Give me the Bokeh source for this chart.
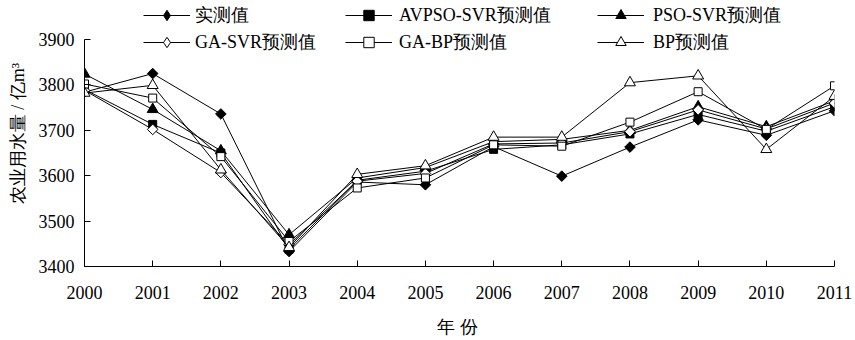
import math
from bokeh.plotting import figure
from bokeh.models import Range1d, FixedTicker, Legend, LegendItem
from bokeh.embed import file_html
from bokeh.resources import INLINE

years = [2000, 2001, 2002, 2003, 2004, 2005, 2006, 2007, 2008, 2009, 2010, 2011]
y_ticks = [3400, 3500, 3600, 3700, 3800, 3900]

actual    = [3784, 3825, 3736, 3433, 3586, 3580, 3664, 3599, 3663, 3723, 3689, 3743]
avpso_svr = [3790, 3713, 3650, 3438, 3590, 3610, 3658, 3668, 3692, 3735, 3698, 3752]
pso_svr   = [3824, 3746, 3655, 3470, 3595, 3618, 3675, 3680, 3700, 3752, 3708, 3765]
ga_svr    = [3788, 3702, 3607, 3448, 3588, 3605, 3670, 3672, 3697, 3745, 3703, 3760]
ga_bp     = [3802, 3771, 3642, 3455, 3573, 3595, 3668, 3665, 3718, 3785, 3702, 3798]
bp        = [3782, 3799, 3613, 3442, 3603, 3622, 3685, 3685, 3805, 3820, 3658, 3775]

names = ["实测值", "AVPSO-SVR预测值", "PSO-SVR预测值", "GA-SVR预测值", "GA-BP预测值", "BP预测值"]
series = [actual, avpso_svr, pso_svr, ga_svr, ga_bp, bp]
# in the plot, diamonds are drawn as squares turned by 45 degrees
markers = ["square", "square", "triangle", "square", "square", "triangle"]
legend_markers = ["diamond", "square", "triangle", "diamond", "square", "triangle"]
angles = [math.pi / 4, 0, 0, math.pi / 4, 0, 0]
fills = ["black", "black", "black", "white", "white", "white"]
sizes = [7.5, 8, 11, 7.5, 8, 11]

FONT = "Liberation Serif"
FS = "18px"
NAN = float("nan")

# frame spans the full height above the x axis so the legend is not clipped;
# the y axis line itself is bounded to 3400..3900
Y_TOP = 3900 + 500 * 39 / 227

p = figure(width=855, height=340, output_backend="svg", toolbar_location=None,
           x_range=Range1d(2000, 2011), y_range=Range1d(3400, Y_TOP),
           min_border_left=84, min_border_right=21, min_border_top=0, min_border_bottom=74)
p.outline_line_color = None
p.grid.visible = False
p.background_fill_color = "white"
p.border_fill_color = "white"

for ax in (p.xaxis[0], p.yaxis[0]):
    ax.major_tick_in = 6
    ax.major_tick_out = 0
    ax.minor_tick_line_color = None
    ax.axis_line_color = "black"
    ax.major_tick_line_color = "black"
    ax.major_label_text_font = FONT
    ax.major_label_text_font_size = FS
    ax.major_label_text_color = "black"
    ax.axis_label_text_font = FONT
    ax.axis_label_text_font_size = FS
    ax.axis_label_text_font_style = "normal"
    ax.axis_label_text_color = "black"

p.xaxis.ticker = FixedTicker(ticks=years)
p.yaxis.ticker = FixedTicker(ticks=y_ticks)
p.yaxis.bounds = (3400, 3900)
p.xaxis.major_label_standoff = 19
p.yaxis.major_label_standoff = 10
p.xaxis.axis_label = "年  份"
p.yaxis.axis_label = "农业用水量 / 亿m³"
p.xaxis.axis_label_standoff = 15
p.yaxis.axis_label_standoff = 8

legend_parts = []
for name, vals, m, lm, a, fc, s in zip(names, series, markers, legend_markers, angles, fills, sizes):
    ln = p.line(years, vals, line_color="black", line_width=1)
    p.scatter(years, vals, marker=m, angle=a, size=s, fill_color=fc,
              line_color="black", line_width=1)
    # marker used only for the legend swatch (a single NaN point, never drawn)
    sw = p.scatter([NAN], [NAN], marker=lm, size=s, fill_color=fc, line_color="black", line_width=1)
    legend_parts.append((name, ln, sw))

col_x = [59, 261, 513]
standoffs = [5, 7, 9]
for c in range(3):
    items = []
    for r in range(2):
        name, ln, sw = legend_parts[r * 3 + c]
        items.append(LegendItem(label=name, renderers=[ln, sw]))
    lg = Legend(items=items, location=(col_x[c], 211), orientation="vertical",
                glyph_width=47, glyph_height=26, label_height=20, spacing=1,
                label_standoff=standoffs[c], padding=0, margin=0,
                border_line_color=None, background_fill_alpha=0,
                label_text_font=FONT, label_text_font_size=FS, label_text_color="black")
    p.add_layout(lg, "center")

open("out.html", "w").write(file_html(p, INLINE))
